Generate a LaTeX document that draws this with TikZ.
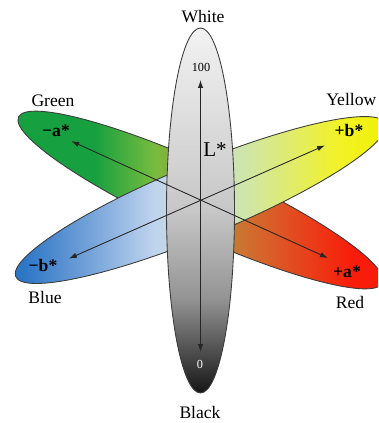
\documentclass[tikz,border=0pt]{standalone}
\usepackage{fontspec}
\setmainfont{Liberation Serif}
\usetikzlibrary{arrows.meta}
\definecolor{agreen}{RGB}{22,160,64}
\definecolor{agreenlt}{RGB}{120,188,62}
\definecolor{aorange}{RGB}{208,112,48}
\definecolor{ared}{RGB}{250,28,10}
\definecolor{bblue}{RGB}{45,118,198}
\definecolor{bbluemid}{RGB}{120,165,218}
\definecolor{bbluelt}{RGB}{192,212,238}
\definecolor{byellowlt}{RGB}{208,230,168}
\definecolor{byellow}{RGB}{240,240,0}
\definecolor{edgegray}{RGB}{60,60,60}
\pgfdeclarehorizontalshading{greenred}{100bp}{color(0bp)=(agreen); color(36bp)=(agreen);
  color(44bp)=(agreenlt); color(56bp)=(aorange); color(70bp)=(ared); color(100bp)=(ared)}
\pgfdeclarehorizontalshading{blueyellow}{100bp}{color(0bp)=(bblue); color(27bp)=(bblue);
  color(36bp)=(bbluemid); color(44bp)=(bbluelt); color(56bp)=(byellowlt); color(68bp)=(byellow!85!white);
  color(75bp)=(byellow); color(100bp)=(byellow)}
\pgfdeclareverticalshading{lightness}{100bp}{color(0bp)=(black!92); color(25bp)=(black!92);
  color(31bp)=(black!68); color(38bp)=(black!42); color(50bp)=(black!22); color(75bp)=(black!5);
  color(100bp)=(black!5)}
\begin{document}
\begin{tikzpicture}[
  lobe/.style={draw=edgegray, line width=0.5pt},
  axisline/.style={draw=black!85, line width=0.5pt, {Latex[length=4.5pt,width=3pt]}-{Latex[length=4.5pt,width=3pt]}},
  pole/.style={font=\bfseries},
  tick/.style={font=\scriptsize}
]
\useasboundingbox (0,0) rectangle (7.56,8.46);
\clip (0,0) rectangle (7.56,8.46);
\coordinate (O) at (4.01,4.46);
\coordinate (Lc) at (4.01,4.25);
\shadedraw[lobe, shading=greenred, rotate around={-24.5:(O)}] (O) ellipse (4 and 0.7);
\shadedraw[lobe, shading=blueyellow, rotate around={22.5:(O)}] (O) ellipse (4 and 0.72);
\shadedraw[lobe, shading=lightness] (Lc) ellipse (0.68 and 3.65);
\coordinate (Ltop) at ([shift={(90:2.4)}]O);
\coordinate (Lbot) at ([shift={(-90:3.04)}]O);
\coordinate (aneg) at ([shift={(155.5:2.84)}]O);
\coordinate (apos) at ([shift={(-24.5:2.8)}]O);
\coordinate (bpos) at ([shift={(23.7:2.72)}]O);
\coordinate (bneg) at ([shift={(204:2.88)}]O);
\draw[axisline] (Lbot) -- (Ltop);
\draw[axisline] (aneg) -- (apos);
\draw[axisline] (bneg) -- (bpos);
\node (white) at (4.06,8.12) {White};
\node[tick] (hundred) at (4.02,7.12) {100};
\node[font=\large] (lstar) at (4.30,5.46) {L*};
\node[tick, text=white] (zero) at (4.00,1.18) {0};
\node (black) at (4.00,0.22) {Black};
\node (green) at (1.06,6.44) {Green};
\node[pole] (aminus) at (1.12,5.84) {−a*};
\node[anchor=east, inner sep=0.5pt] (yellow) at (7.55,6.48) {Yellow};
\node[pole] (bplus) at (6.98,5.86) {+b*};
\node[pole] (bminus) at (0.86,3.16) {−b*};
\node (blue) at (0.90,2.52) {Blue};
\node[pole] (aplus) at (6.94,3.02) {+a*};
\node (red) at (7.00,2.42) {Red};
\end{tikzpicture}
\end{document}
